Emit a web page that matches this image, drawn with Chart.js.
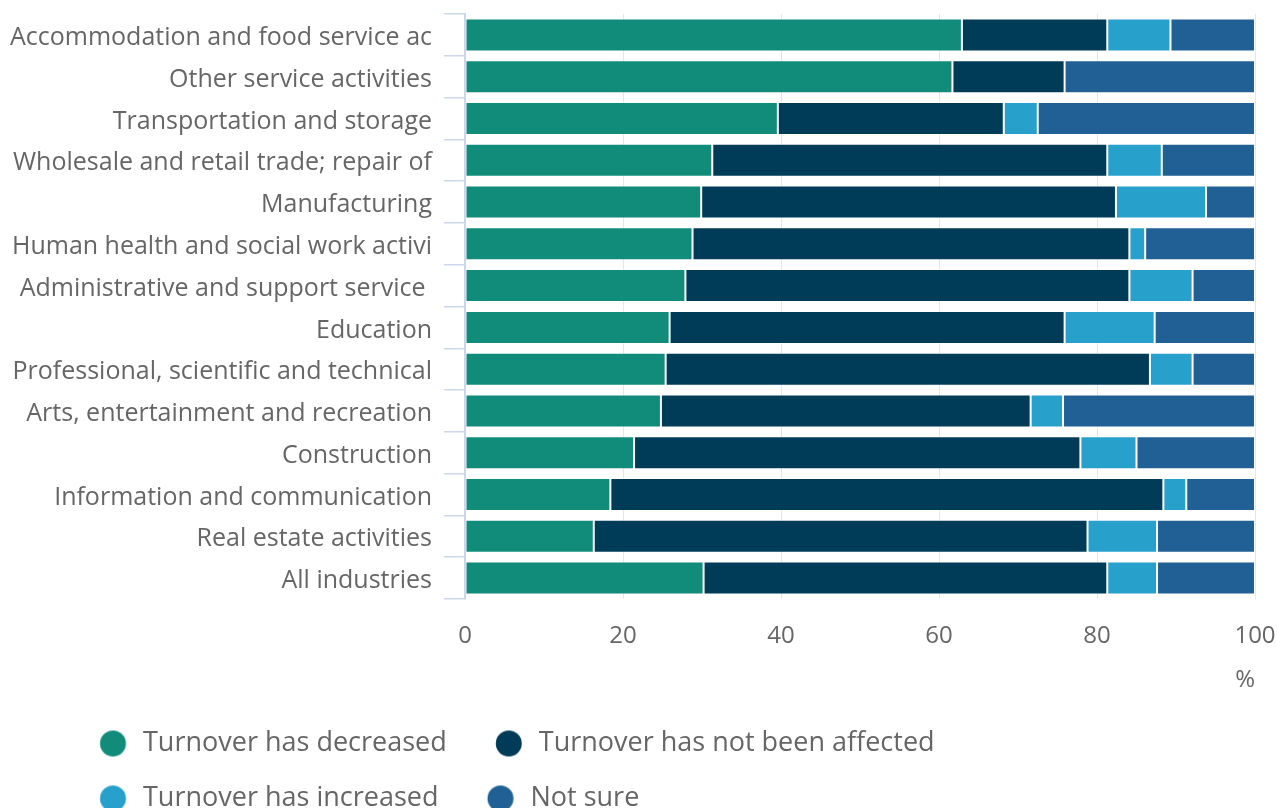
<!DOCTYPE html>
<html>
<head>
<meta charset="utf-8">
<script src="https://cdn.jsdelivr.net/npm/chart.js@4.4.1/dist/chart.umd.min.js"></script>
<style>
  html, body { margin: 0; padding: 0; background: #fff; overflow: hidden; }
  #chart { display: block; }
</style>
</head>
<body>
<canvas id="chart" width="1277" height="822"></canvas>
<script>
'use strict';

const categories = [
  'Accommodation and food service activities',
  'Other service activities',
  'Transportation and storage',
  'Wholesale and retail trade; repair of motor vehicles and motorcycles',
  'Manufacturing',
  'Human health and social work activities',
  'Administrative and support service activities',
  'Education',
  'Professional, scientific and technical activities',
  'Arts, entertainment and recreation',
  'Construction',
  'Information and communication',
  'Real estate activities',
  'All industries'
];

const decreased   = [62.9, 61.7, 39.6, 31.3, 29.9, 28.8, 27.9, 25.9, 25.4, 24.8, 21.4, 18.4, 16.3, 30.2];
const notAffected = [18.4, 14.2, 28.6, 50.0, 52.5, 55.3, 56.2, 50.0, 61.3, 46.8, 56.5, 70.0, 62.5, 51.1];
const increased   = [8.0,  0.0,  4.3,  6.9,  11.4, 2.0,  8.0,  11.4, 5.4,  4.1,  7.1,  2.9,  8.8,  6.3];
const notSure     = [10.7, 24.1, 27.5, 11.8, 6.2,  13.9, 7.9,  12.7, 7.9,  24.3, 15.0, 8.7,  12.4, 12.4];

const xTicks = [0, 20, 40, 60, 80, 100];

const seriesNames = ['Turnover has decreased', 'Turnover has not been affected', 'Turnover has increased', 'Not sure'];
const colors = ['#118c7b', '#003c57', '#27a0cc', '#206095'];

const FONT = "'Open Sans', 'Noto Sans', sans-serif";
const GREY = '#666666';

Chart.defaults.font.family = FONT;
Chart.defaults.color = GREY;

// long category names get cut at the axis box, like the original
const measureCtx = document.createElement('canvas').getContext('2d');
measureCtx.font = '25px ' + FONT;
const maxLabelWidth = 424;
function cut(label) {
  let s = label;
  while (s.length && measureCtx.measureText(s).width > maxLabelWidth) s = s.slice(0, -1);
  return s;
}

// legend markers: round dot, drawn a bit right of the box centre
function marker(color) {
  const c = document.createElement('canvas');
  c.width = 60;
  c.height = 34;
  const g = c.getContext('2d');
  g.fillStyle = color;
  g.beginPath();
  g.arc(38.75, 17, 13, 0, Math.PI * 2);
  g.closePath();
  g.fill();
  return c;
}
const markers = colors.map(marker);

const seriesData = [decreased, notAffected, increased, notSure];

// labels are cut by cut(), so let them run left of the y scale box
const noLabelClip = {
  id: 'noLabelClip',
  afterLayout(chart) { chart.scales.y.left = 0; }
};

const config = {
  type: 'bar',
  data: {
    labels: categories,
    datasets: seriesNames.map((name, i) => ({
      label: name,
      data: seriesData[i],
      backgroundColor: colors[i],
      borderColor: 'rgba(255,255,255,0.35)',
      borderWidth: 1,
      borderSkipped: false,
      categoryPercentage: 0.79,
      barPercentage: 1
    }))
  },
  options: {
    indexAxis: 'y',
    responsive: false,
    animation: false,
    layout: { padding: { left: 51, top: 14, right: 0, bottom: 0 } },
    scales: {
      x: {
        stacked: true,
        min: 0,
        max: 100,
        ticks: { stepSize: 20, padding: 23, color: GREY, font: { size: 24 } },
        grid: { color: '#e6e6e6', lineWidth: 1, drawTicks: false },
        border: { display: false },
        title: { display: true, text: '%', align: 'end', color: GREY, font: { size: 24 }, padding: { top: 0, bottom: 7 } },
        afterBuildTicks: s => { s.ticks = xTicks.map(v => ({ value: v })); },
        afterFit: s => { s.height = 103; s.paddingLeft = 0; s.paddingRight = 22; }
      },
      y: {
        stacked: true,
        grid: { offset: true, drawOnChartArea: false, drawTicks: true, tickLength: 21, color: '#ccd6eb', lineWidth: 1.5 },
        border: { display: true, color: '#ccd6eb', width: 2 },
        ticks: {
          padding: 12,
          labelOffset: 3,
          color: GREY,
          font: { size: 25 },
          callback: function (value) { return cut(this.getLabelForValue(value)); }
        },
        afterFit: s => { s.width = 414; s.paddingTop = 0; s.paddingBottom = 0; }
      }
    },
    plugins: {
      tooltip: { enabled: false },
      legend: {
        position: 'bottom',
        align: 'start',
        labels: {
          usePointStyle: true,
          pointStyleWidth: 50.5,
          padding: 28,
          color: GREY,
          font: { size: 27 },
          generateLabels: chart => {
            const items = Chart.defaults.plugins.legend.labels.generateLabels(chart);
            items.forEach((it, i) => { it.pointStyle = markers[i]; it.lineWidth = 0; });
            return items;
          }
        }
      }
    }
  },
  plugins: [noLabelClip]
};

const canvas = document.querySelector('#chart');
const chart = new Chart(canvas.getContext('2d'), config);
</script>
</body>
</html>
